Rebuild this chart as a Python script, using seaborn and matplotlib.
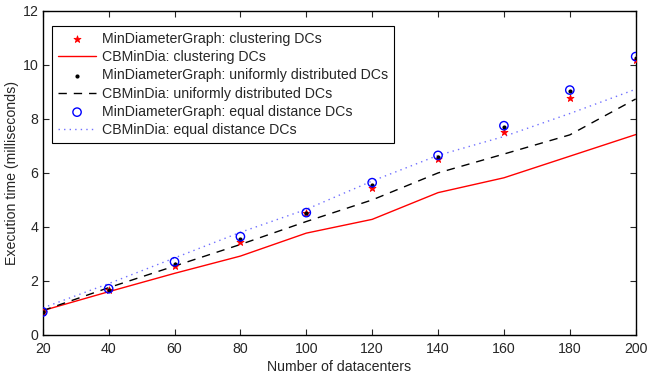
import pandas as pd
import numpy as np
import matplotlib
matplotlib.use('Agg')
import matplotlib.pyplot as plt
import seaborn as sns

# Data
datacenters = [20, 40, 60, 80, 100, 120, 140, 160, 180, 200]

mdg_clustering = [0.85, 1.66, 2.57, 3.43, 4.50, 5.46, 6.52, 7.50, 8.79, 10.19]
cb_clustering = [0.90, 1.60, 2.28, 2.92, 3.77, 4.28, 5.27, 5.82, 6.62, 7.42]
mdg_uniform = [0.85, 1.68, 2.64, 3.56, 4.50, 5.57, 6.60, 7.70, 9.03, 10.25]
cb_uniform = [0.90, 1.75, 2.55, 3.35, 4.20, 5.00, 6.00, 6.70, 7.41, 8.74]
mdg_equal = [0.85, 1.71, 2.71, 3.64, 4.53, 5.64, 6.65, 7.75, 9.07, 10.31]
cb_equal = [1.00, 1.90, 2.85, 3.80, 4.65, 5.70, 6.65, 7.35, 8.20, 9.10]

x_ticks = [20, 40, 60, 80, 100, 120, 140, 160, 180, 200]
y_ticks = [0, 2, 4, 6, 8, 10, 12]

sns.set_style('ticks')
plt.rcParams['font.family'] = ['Liberation Sans', 'DejaVu Sans']
plt.rcParams['xtick.direction'] = 'in'
plt.rcParams['ytick.direction'] = 'in'
fs = 10.2

fig = plt.figure(figsize=(6.48, 3.78), dpi=100)
ax = fig.add_axes([0.066, 0.114, 0.915, 0.857])

# series in legend order
sns.scatterplot(x=datacenters, y=mdg_clustering, ax=ax, marker='*', color='red',
                s=28, edgecolor='red', linewidth=0.6,
                label='MinDiameterGraph: clustering DCs', zorder=3)
sns.lineplot(x=datacenters, y=cb_clustering, ax=ax, color='red', linewidth=1.0,
             label='CBMinDia: clustering DCs')
sns.scatterplot(x=datacenters, y=mdg_uniform, ax=ax, marker='.', color='black',
                s=36, edgecolor='black', linewidth=0,
                label='MinDiameterGraph: uniformly distributed DCs', zorder=4)
sns.lineplot(x=datacenters, y=cb_uniform, ax=ax, color='black', linewidth=1.0,
             linestyle=(0, (6, 5)), label='CBMinDia: uniformly distributed DCs')
sns.scatterplot(x=datacenters, y=mdg_equal, ax=ax, marker='o', facecolor='none',
                edgecolor='blue', s=36, linewidth=1.0,
                label='MinDiameterGraph: equal distance DCs', zorder=5)
sns.lineplot(x=datacenters, y=cb_equal, ax=ax, color='#7070ff', linewidth=1.0,
             linestyle=(0, (1, 3)), label='CBMinDia: equal distance DCs')

ax.set_xlim(20, 200)
ax.set_ylim(0, 12)
ax.set_xticks(x_ticks)
ax.set_yticks(y_ticks)
ax.tick_params(top=True, right=True, length=4, width=0.8, labelsize=fs)
ax.tick_params(axis='x', pad=5)
ax.tick_params(axis='y', pad=3)
for sp in ax.spines.values():
    sp.set_visible(True)
    sp.set_linewidth(1.0)
    sp.set_color('black')

ax.set_xlabel('Number of datacenters', fontsize=fs, labelpad=3)
ax.set_ylabel('Execution time (milliseconds)', fontsize=fs, labelpad=3)

leg = ax.legend(loc='upper left', bbox_to_anchor=(0.016, 0.953), fontsize=fs,
                frameon=True, fancybox=False, framealpha=1, edgecolor='black',
                borderpad=0.4, labelspacing=0.3, handlelength=2.7,
                handletextpad=0.4, borderaxespad=0)
leg.get_frame().set_linewidth(0.8)

fig.savefig('out.png', dpi=100)
